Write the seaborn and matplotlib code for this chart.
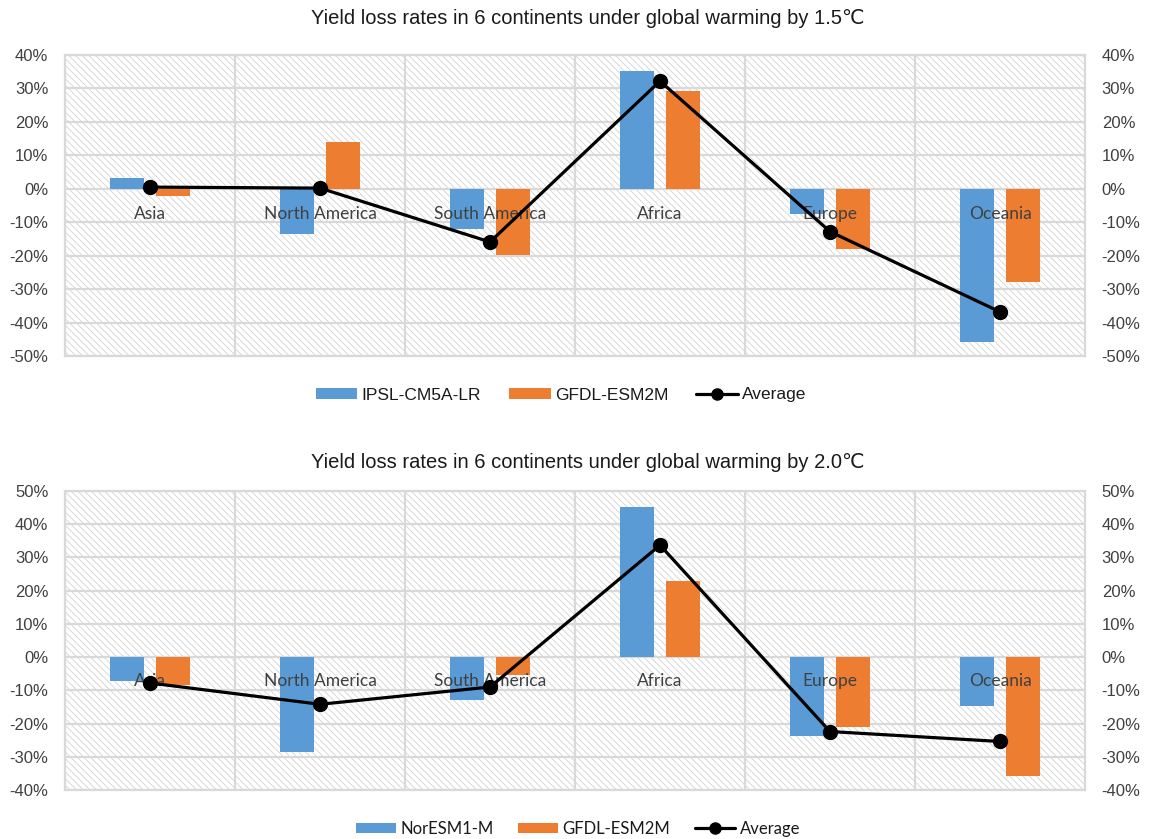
import matplotlib
matplotlib.use("Agg")
import matplotlib.pyplot as plt
from matplotlib.patches import Patch, Rectangle
from matplotlib.lines import Line2D
from matplotlib.ticker import FuncFormatter, FixedLocator
import seaborn as sns
import pandas as pd

# Yield loss rates (%) by continent
continents = ["Asia", "North America", "South America", "Africa", "Europe", "Oceania"]

ipsl_15 = [3.1, -13.6, -11.9, 35.2, -7.4, -45.8]
gfdl_15 = [-2.2, 14.1, -19.8, 29.2, -18.1, -27.8]
avg_15 = [0.5, 0.2, -15.9, 32.2, -12.8, -36.8]

nor_20 = [-7.1, -28.5, -12.8, 45.1, -23.6, -14.6]
gfdl_20 = [-8.3, 0.0, -5.3, 22.9, -21.1, -35.7]
avg_20 = [-7.8, -14.2, -9.0, 33.7, -22.4, -25.4]

ticks_15 = [-50, -40, -30, -20, -10, 0, 10, 20, 30, 40]
ticks_20 = [-40, -30, -20, -10, 0, 10, 20, 30, 40, 50]

title_15 = "Yield loss rates in 6 continents under global warming by 1.5\u2103"
title_20 = "Yield loss rates in 6 continents under global warming by 2.0\u2103"

BLUE = "#5B9BD5"
ORANGE = "#ED7D31"
GRID = "#d9d9d9"
TEXT = "#404040"

sns.set_theme(style="white")
plt.rcParams["font.family"] = ["Liberation Sans", "DejaVu Sans"]
plt.rcParams["hatch.linewidth"] = 0.6

fig = plt.figure(figsize=(11.55, 8.39), dpi=100)

W, H = 1155, 839


def px_axes(left, top, right, bottom):
    return fig.add_axes([left / W, 1 - bottom / H, (right - left) / W, (bottom - top) / H])


pct = FuncFormatter(lambda v, _: f"{v:.0f}%")


def panel(ax, series_a, series_b, avg, names, ticks, title, title_y,
          legend_x, legend_y, legend_font, legend_size, col_space, label_offset):
    df = pd.DataFrame({
        "continent": continents * 2,
        "value": list(series_a) + list(series_b),
        "model": [names[0]] * len(continents) + [names[1]] * len(continents),
    })
    # hatched plot background
    ax.add_patch(Rectangle((0, 0), 1, 1, transform=ax.transAxes, facecolor="white",
                           edgecolor="#d2d2d2", hatch="\\\\\\\\\\", linewidth=0, zorder=0.1))
    sns.barplot(data=df, x="continent", y="value", hue="model", hue_order=names,
                palette=[BLUE, ORANGE], width=0.54, gap=0.24, saturation=1,
                linewidth=0, legend=False, ax=ax, zorder=2)
    ax.plot(range(len(continents)), avg, color="black", lw=2.3, marker="o",
            markersize=10, zorder=4, solid_joinstyle="miter")

    ax.set_xlim(-0.5, len(continents) - 0.5)
    ax.set_ylim(ticks[0], ticks[-1])
    ax.yaxis.set_major_locator(FixedLocator(ticks))
    ax.yaxis.set_major_formatter(pct)
    ax.set_xticks([])
    ax.xaxis.set_minor_locator(FixedLocator([i + 0.5 for i in range(len(continents) - 1)]))
    ax.set_axisbelow(True)
    ax.grid(axis="y", which="major", color=GRID, lw=1.6, zorder=0.5)
    ax.grid(axis="x", which="minor", color=GRID, lw=1.6, zorder=0.5)
    ax.set_xlabel("")
    ax.set_ylabel("")
    for s in ax.spines.values():
        s.set_visible(True)
        s.set_color(GRID)
        s.set_linewidth(1.6)
    ax.tick_params(axis="y", length=0, pad=12, labelsize=12, labelcolor=TEXT)
    ax.tick_params(axis="x", which="both", length=0)

    for i, name in enumerate(continents):
        ax.annotate(name, xy=(i, 0), xytext=(0, label_offset), textcoords="offset points",
                    ha="center", va="center", fontsize=12.5, color=TEXT,
                    family=["Lato", "DejaVu Sans"], zorder=3)

    ax2 = ax.twinx()
    ax2.set_ylim(ticks[0], ticks[-1])
    ax2.yaxis.set_major_locator(FixedLocator(ticks))
    ax2.yaxis.set_major_formatter(pct)
    ax2.tick_params(axis="y", length=0, pad=12, labelsize=12, labelcolor=TEXT)
    for s in ax2.spines.values():
        s.set_visible(False)
    ax2.grid(False)

    fig.text(588 / W, 1 - title_y / H, title, ha="center", va="center", fontsize=14.5,
             color="#1a1a1a")

    handles = [
        Patch(facecolor=BLUE, edgecolor="none", label=names[0]),
        Patch(facecolor=ORANGE, edgecolor="none", label=names[1]),
        Line2D([], [], color="black", lw=2.3, marker="o", markersize=8, label="Average"),
    ]
    fig.legend(handles=handles, loc="center", bbox_to_anchor=(legend_x / W, 1 - legend_y / H),
               ncol=3, frameon=False, handlelength=2.4, handleheight=0.6,
               handletextpad=0.25, columnspacing=col_space,
               prop={"family": legend_font, "size": legend_size}, labelcolor="#1a1a1a")


ax_top = px_axes(65, 55, 1085, 356)
panel(ax_top, ipsl_15, gfdl_15, avg_15, ["IPSL-CM5A-LR", "GFDL-ESM2M"], ticks_15,
      title_15, 18, 561, 395, ["Liberation Sans", "DejaVu Sans"], 12.5, 1.6, -18)

ax_bot = px_axes(65, 491, 1085, 790)
panel(ax_bot, nor_20, gfdl_20, avg_20, ["NorESM1-M", "GFDL-ESM2M"], ticks_20,
      title_20, 462, 578, 829, ["Lato", "DejaVu Sans"], 12, 1.5, -17)

fig.savefig("out.png", dpi=100, facecolor="white")
